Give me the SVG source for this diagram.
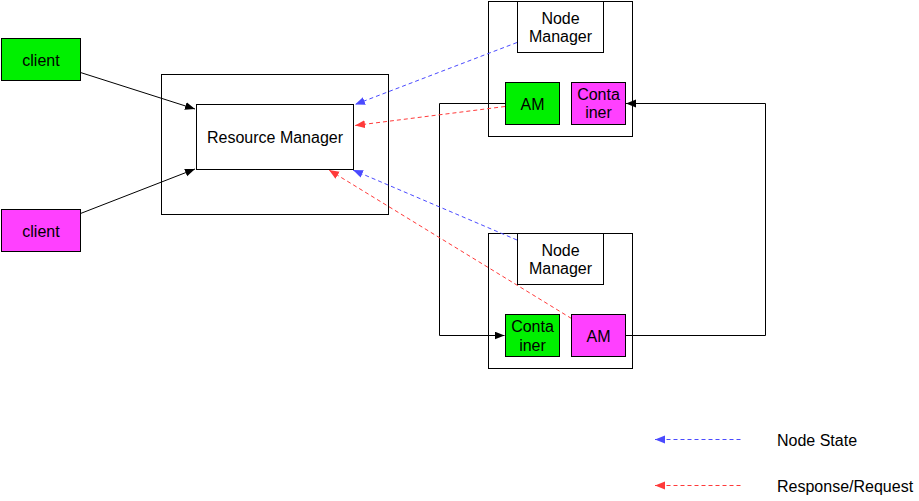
<svg xmlns="http://www.w3.org/2000/svg" width="919" height="501" viewBox="0 0 919 501">
<defs>
<style>
.box{fill:#fff;stroke:#000;stroke-width:1}
.g{fill:#00f000;stroke:#000;stroke-width:1}
.m{fill:#ff40ff;stroke:#000;stroke-width:1}
text{font-family:"Liberation Sans",Arial,sans-serif;font-size:16px;fill:#000;text-anchor:middle}
.c{fill:none;stroke:#000;stroke-width:1}
.b{fill:none;stroke:#4a4aff;stroke-width:1;stroke-dasharray:4,3}
.r{fill:none;stroke:#ff3a3a;stroke-width:1;stroke-dasharray:4,3}
</style>
<marker id="ak" markerUnits="userSpaceOnUse" markerWidth="12" markerHeight="10" refX="10" refY="4" orient="auto"><path d="M0,0 L10,4 L0,8 Z" fill="#000"/></marker>
<marker id="ab" markerUnits="userSpaceOnUse" markerWidth="12" markerHeight="10" refX="10" refY="4" orient="auto"><path d="M0,0 L10,4 L0,8 Z" fill="#4a4aff"/></marker>
<marker id="ar" markerUnits="userSpaceOnUse" markerWidth="12" markerHeight="10" refX="10" refY="4" orient="auto"><path d="M0,0 L10,4 L0,8 Z" fill="#ff3a3a"/></marker>
</defs>
<g id="rm-outer"><rect class="box" x="161.5" y="74.5" width="227" height="140"/></g>
<g id="node1"><rect class="box" x="488.5" y="1.5" width="144" height="135"/></g>
<g id="node2"><rect class="box" x="488.5" y="233.5" width="144" height="135"/></g>
<g id="connectors">
<path class="c" d="M80.5,72.5 L195,109" marker-end="url(#ak)"/>
<path class="c" d="M80.5,213.5 L195,169" marker-end="url(#ak)"/>
<path class="c" d="M505.5,103.5 H439.5 V335.5 H504.5" marker-end="url(#ak)"/>
<path class="c" d="M625.5,335.5 H765.5 V103.5 H626" marker-end="url(#ak)"/>
<path class="b" d="M517,42.5 L355,104.5" marker-end="url(#ab)"/>
<path class="r" d="M505,106.5 L355,125.5" marker-end="url(#ar)"/>
<path class="b" d="M517,240 L353,170" marker-end="url(#ab)"/>
<path class="r" d="M571.5,318.5 L329,170" marker-end="url(#ar)"/>
<path class="b" d="M740.5,439.5 L655,439.5" marker-end="url(#ab)"/>
<path class="r" d="M740.5,485.5 L655,485.5" marker-end="url(#ar)"/>
</g>
<g id="client1"><rect class="g" x="1.5" y="38.5" width="79" height="42"/><text x="41" y="66">client</text></g>
<g id="client2"><rect class="m" x="1.5" y="209.5" width="79" height="42"/><text x="41" y="237">client</text></g>
<g id="resource-manager"><rect class="box" x="196.5" y="104.5" width="157" height="65"/><text x="275" y="143">Resource Manager</text></g>
<g id="nm1"><rect class="box" x="517.5" y="1.5" width="86" height="51"/><text x="560.5" y="24">Node</text><text x="560.5" y="42">Manager</text></g>
<g id="am1"><rect class="g" x="505.5" y="82.5" width="54" height="42"/><text x="532.5" y="110">AM</text></g>
<g id="container1"><rect class="m" x="571.5" y="82.5" width="54" height="42"/><text x="598.5" y="100">Conta</text><text x="598.5" y="118">iner</text></g>
<g id="nm2"><rect class="box" x="517.5" y="233.5" width="86" height="51"/><text x="560.5" y="256">Node</text><text x="560.5" y="274">Manager</text></g>
<g id="container2"><rect class="g" x="505.5" y="314.5" width="54" height="42"/><text x="532.5" y="332">Conta</text><text x="532.5" y="350.5">iner</text></g>
<g id="am2"><rect class="m" x="571.5" y="314.5" width="54" height="42"/><text x="598.5" y="342">AM</text></g>
<g id="legend"><text x="777" y="446" style="text-anchor:start">Node State</text><text x="777" y="491.5" style="text-anchor:start">Response/Request</text></g>
</svg>
